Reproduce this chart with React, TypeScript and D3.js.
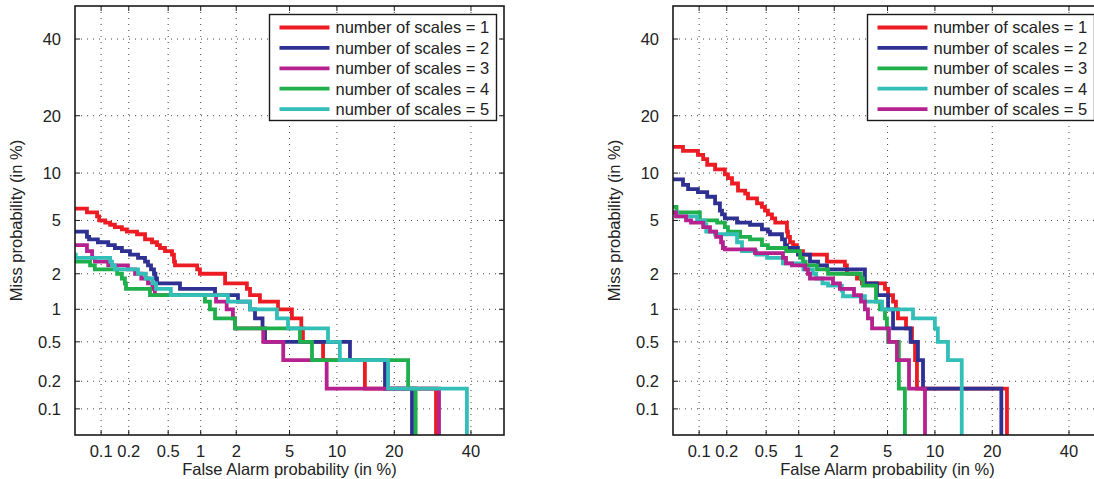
import React, { useEffect } from "react";
import * as d3 from "d3";

// ---------- data (percent values) ----------
const xTicks = [0.1, 0.2, 0.5, 1, 2, 5, 10, 20, 40];
const yTicks = [0.1, 0.2, 0.5, 1, 2, 5, 10, 20, 40];
const legendLabels = [
  "number of scales = 1",
  "number of scales = 2",
  "number of scales = 3",
  "number of scales = 4",
  "number of scales = 5",
];
const xLabel = "False Alarm probability (in %)";
const yLabel = "Miss probability (in %)";

// [false alarm %, miss %] ; each point starts a new miss level (step curve)
const leftS1 = [[0,6.0],[0.069,5.67],[0.090,5.33],[0.095,5.0],[0.111,4.83],[0.126,4.67],[0.142,4.5],[0.169,4.33],[0.191,4.17],[0.244,4.0],[0.295,3.67],[0.347,3.5],[0.389,3.33],[0.416,3.17],[0.466,3.0],[0.544,2.83],[0.568,2.5],[0.581,2.33],[0.93,2.17],[0.985,2.0],[1.62,1.67],[2.43,1.5],[2.57,1.33],[3.06,1.17],[4.15,1.0],[5.19,0.83],[6.0,0.67],[6.15,0.5],[8.26,0.33],[14.3,0.167],[30.1,0]];
const leftS2 = [[0,4.17],[0.069,3.83],[0.073,3.67],[0.092,3.5],[0.120,3.33],[0.142,3.17],[0.169,3.0],[0.206,2.83],[0.250,2.67],[0.295,2.5],[0.316,2.33],[0.339,2.17],[0.363,2.0],[0.375,1.83],[0.389,1.67],[0.647,1.5],[1.333,1.33],[2.065,1.17],[2.567,1.0],[2.807,0.83],[3.2,0.67],[3.34,0.5],[11.87,0.33],[18.07,0.167],[24.02,0]];
const leftS3 = [[0,3.33],[0.069,3.0],[0.079,2.67],[0.085,2.5],[0.120,2.33],[0.196,2.17],[0.233,2.0],[0.27,1.83],[0.316,1.67],[0.35,1.5],[0.37,1.33],[1.36,1.17],[1.67,1.0],[1.88,0.83],[1.95,0.67],[3.24,0.5],[4.52,0.33],[8.69,0.167],[30.9,0]];
const leftS4 = [[0,2.5],[0.075,2.33],[0.085,2.17],[0.150,2.0],[0.169,1.83],[0.182,1.67],[0.187,1.5],[0.331,1.33],[1.09,1.17],[1.205,1.0],[1.333,0.83],[1.953,0.67],[5.88,0.5],[7.04,0.33],[23.1,0.167],[24.9,0]];
const leftS5 = [[0,2.83],[0.051,2.67],[0.126,2.5],[0.132,2.33],[0.142,2.17],[0.25,2.0],[0.30,1.83],[0.35,1.67],[0.38,1.5],[0.53,1.33],[1.71,1.17],[2.57,1.0],[4.08,0.83],[4.88,0.67],[8.85,0.5],[10.4,0.33],[18.7,0.167],[38.8,0]];

const rightS1 = [[0,14.0],[0.0655,13.33],[0.097,12.67],[0.111,12.0],[0.123,11.17],[0.150,10.5],[0.191,9.83],[0.206,9.33],[0.227,8.67],[0.262,7.83],[0.31,7.5],[0.331,7.0],[0.407,6.5],[0.455,6.17],[0.487,5.83],[0.52,5.5],[0.568,5.17],[0.61,4.83],[0.784,4.17],[0.80,3.83],[0.835,3.5],[0.89,3.33],[0.965,3.0],[1.09,2.83],[1.745,2.5],[2.43,2.33],[2.52,2.0],[3.01,1.83],[3.28,1.67],[4.80,1.5],[5.04,1.33],[5.45,1.17],[5.70,1.0],[5.88,0.83],[6.64,0.67],[7.25,0.5],[7.58,0.33],[7.79,0.167],[23.3,0]];
const rightS2 = [[0,9.17],[0.0655,8.5],[0.075,8.0],[0.097,7.67],[0.123,7.17],[0.150,6.5],[0.169,5.83],[0.178,5.5],[0.191,5.17],[0.256,4.83],[0.347,4.67],[0.455,4.33],[0.52,4.17],[0.544,4.0],[0.705,3.67],[0.752,3.33],[0.784,3.17],[0.985,2.83],[1.255,2.5],[1.47,2.33],[1.745,2.17],[3.45,1.67],[4.22,1.33],[5.04,1.0],[5.45,0.67],[7.1,0.5],[7.9,0.33],[8.49,0.167],[22.0,0]];
const rightS3 = [[0,6.17],[0.055,5.67],[0.102,5.0],[0.158,4.83],[0.191,4.5],[0.206,4.17],[0.275,3.83],[0.347,3.67],[0.455,3.33],[0.52,3.17],[0.77,3.0],[1.03,2.67],[1.09,2.5],[1.15,2.33],[1.44,2.17],[1.78,2.0],[3.22,1.83],[3.34,1.6],[4.15,1.17],[4.43,1.0],[4.80,0.83],[4.95,0.67],[5.04,0.5],[5.96,0.167],[6.53,0]];
const rightS4 = [[0,5.67],[0.0557,5.33],[0.095,5.0],[0.116,4.67],[0.120,4.17],[0.150,4.0],[0.256,3.5],[0.288,3.0],[0.40,2.83],[0.51,2.67],[0.72,2.42],[1.03,2.33],[1.10,2.17],[1.33,2.0],[1.42,1.83],[1.6,1.67],[1.78,1.6],[2.30,1.45],[2.35,1.3],[3.45,1.17],[4.58,1.0],[7.36,0.83],[10.0,0.67],[10.4,0.5],[11.87,0.33],[14.1,0]];
const rightS5 = [[0,5.67],[0.0543,5.33],[0.071,5.0],[0.081,4.83],[0.111,4.5],[0.132,4.17],[0.154,3.83],[0.174,3.5],[0.182,3.17],[0.191,3.1],[0.389,2.9],[0.72,2.67],[0.768,2.42],[0.871,2.33],[1.14,2.17],[1.205,2.0],[1.255,1.83],[1.954,1.67],[2.22,1.5],[2.857,1.33],[3.226,1.17],[3.45,1.0],[3.63,0.83],[3.89,0.67],[5.11,0.5],[5.79,0.33],[6.94,0.167],[8.73,0]];

const RED = "#ED1C24";
const BLUE = "#2E3192";
const MAGENTA = "#B5218E";
const GREEN = "#1FB04B";
const CYAN = "#33BFB8";

const leftSeries = [
  { data: leftS1, color: RED },
  { data: leftS2, color: BLUE },
  { data: leftS3, color: MAGENTA },
  { data: leftS4, color: GREEN },
  { data: leftS5, color: CYAN },
];
const rightSeries = [
  { data: rightS1, color: RED },
  { data: rightS2, color: BLUE },
  { data: rightS3, color: GREEN },
  { data: rightS4, color: CYAN },
  { data: rightS5, color: MAGENTA },
];

// ---------- inverse normal CDF (probit) for DET axes ----------
function probit(p: number): number {
  const a = [-3.969683028665376e1, 2.209460984245205e2, -2.759285104469687e2, 1.38357751867269e2, -3.066479806614716e1, 2.506628277459239];
  const b = [-5.447609879822406e1, 1.615858368580409e2, -1.556989798598866e2, 6.680131188771972e1, -1.328068155288572e1];
  const c = [-7.784894002430293e-3, -3.223964580411365e-1, -2.400758277161838, -2.549732539343734, 4.374664141464968, 2.938163982698783];
  const d = [7.784695709041462e-3, 3.224671290700398e-1, 2.445134137142996, 3.754408661907416];
  const pl = 0.02425;
  if (p <= 0) return -Infinity;
  if (p >= 1) return Infinity;
  if (p < pl) {
    const q = Math.sqrt(-2 * Math.log(p));
    return (((((c[0] * q + c[1]) * q + c[2]) * q + c[3]) * q + c[4]) * q + c[5]) / ((((d[0] * q + d[1]) * q + d[2]) * q + d[3]) * q + 1);
  }
  if (p <= 1 - pl) {
    const q = p - 0.5;
    const r = q * q;
    return ((((((a[0] * r + a[1]) * r + a[2]) * r + a[3]) * r + a[4]) * r + a[5]) * q) / (((((b[0] * r + b[1]) * r + b[2]) * r + b[3]) * r + b[4]) * r + 1);
  }
  const q = Math.sqrt(-2 * Math.log(1 - p));
  return -(((((c[0] * q + c[1]) * q + c[2]) * q + c[3]) * q + c[4]) * q + c[5]) / ((((d[0] * q + d[1]) * q + d[2]) * q + d[3]) * q + 1);
}

const FONT = "'Liberation Sans', Arial, Helvetica, sans-serif";
const TEXT = "#222";
const AX = "#1a1a1a";
const FS = 16.5;

function Panel({ x0, series, id }: { x0: number; series: { data: number[][]; color: string }[]; id: string }) {
  const y0 = 6;
  const W = 429;
  const H = 429;
  const zMin = probit(0.0005);
  const zMax = probit(0.5);
  const xs = d3.scaleLinear().domain([zMin, zMax]).range([x0, x0 + W]);
  const ys = d3.scaleLinear().domain([zMin, zMax]).range([y0 + H, y0]);
  const t = (v: number) => (v <= 0 ? -4 : probit(v / 100));
  const line = d3
    .line<number[]>()
    .x((d) => xs(t(d[0])))
    .y((d) => ys(t(d[1])))
    .curve(d3.curveStepAfter);

  const legW = 227;
  const legH = 106;
  const legX = x0 + W - 7.5 - legW;
  const legY = 14.5;
  const rowH = 20.4;

  return (
    <g>
      <defs>
        <clipPath id={id}>
          <rect x={x0} y={y0} width={W} height={H} />
        </clipPath>
      </defs>
      <rect x={x0} y={y0} width={W} height={H} fill="#fff" />
      {/* grid */}
      {xTicks.map((v) => (
        <line key={"gx" + v} x1={xs(t(v))} x2={xs(t(v))} y1={y0} y2={y0 + H} stroke="#444" strokeWidth={1} strokeDasharray="1 5" />
      ))}
      {yTicks.map((v) => (
        <line key={"gy" + v} y1={ys(t(v))} y2={ys(t(v))} x1={x0} x2={x0 + W} stroke="#444" strokeWidth={1} strokeDasharray="1 5" />
      ))}
      {/* curves */}
      <g clipPath={`url(#${id})`}>
        {series.map((s, i) => (
          <path key={i} d={line(s.data) || ""} fill="none" stroke={s.color} strokeWidth={3.8} strokeLinejoin="miter" />
        ))}
      </g>
      {/* ticks */}
      {xTicks.map((v) => (
        <g key={"tx" + v}>
          <line x1={xs(t(v))} x2={xs(t(v))} y1={y0 + H} y2={y0 + H - 5} stroke={AX} strokeWidth={1} />
          <line x1={xs(t(v))} x2={xs(t(v))} y1={y0} y2={y0 + 5} stroke={AX} strokeWidth={1} />
          <text x={xs(t(v))} y={y0 + H + 22} textAnchor="middle" fontFamily={FONT} fontSize={FS} fill={TEXT}>
            {String(v)}
          </text>
        </g>
      ))}
      {yTicks.map((v) => (
        <g key={"ty" + v}>
          <line y1={ys(t(v))} y2={ys(t(v))} x1={x0} x2={x0 + 5} stroke={AX} strokeWidth={1} />
          <line y1={ys(t(v))} y2={ys(t(v))} x1={x0 + W} x2={x0 + W - 5} stroke={AX} strokeWidth={1} />
          <text x={x0 - 14} y={ys(t(v))} dy="0.36em" textAnchor="end" fontFamily={FONT} fontSize={FS} fill={TEXT}>
            {String(v)}
          </text>
        </g>
      ))}
      <rect x={x0} y={y0} width={W} height={H} fill="none" stroke={AX} strokeWidth={1.6} />
      {/* axis labels */}
      <text x={x0 + W / 2} y={475} textAnchor="middle" fontFamily={FONT} fontSize={FS} fill={TEXT}>
        {xLabel}
      </text>
      <text transform={`translate(${x0 - 53},${y0 + H / 2}) rotate(-90)`} textAnchor="middle" fontFamily={FONT} fontSize={FS} fill={TEXT}>
        {yLabel}
      </text>
      {/* legend */}
      <rect x={legX} y={legY} width={legW} height={legH} fill="#fff" stroke={AX} strokeWidth={1.4} />
      {series.map((s, i) => (
        <g key={"lg" + i}>
          <line x1={legX + 10} x2={legX + 60} y1={legY + 13 + i * rowH} y2={legY + 13 + i * rowH} stroke={s.color} strokeWidth={3.8} />
          <text x={legX + 66} y={legY + 13 + i * rowH} dy="0.36em" fontFamily={FONT} fontSize={FS} fill={TEXT}>
            {legendLabels[i]}
          </text>
        </g>
      ))}
    </g>
  );
}

export default function App() {
  useEffect(() => {
    document.body.style.margin = "0";
    document.body.style.overflow = "hidden";
  }, []);
  return (
    <svg width={1094} height={479} style={{ position: "absolute", left: 0, top: 0, background: "#fff" }}>
      <rect x={0} y={0} width={1094} height={479} fill="#fff" />
      <Panel x0={75} series={leftSeries} id="clipL" />
      <Panel x0={673} series={rightSeries} id="clipR" />
    </svg>
  );
}
